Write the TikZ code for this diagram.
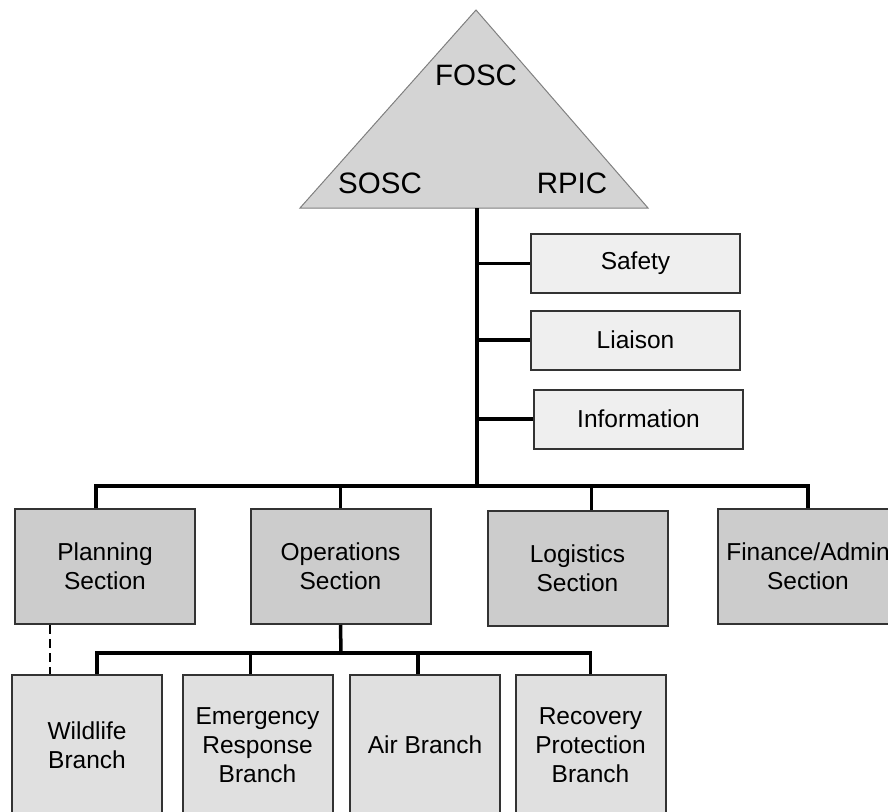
\documentclass[tikz,border=0pt]{standalone}
\usepackage{fontspec}
\setmainfont{Liberation Sans}
\usetikzlibrary{positioning}
\definecolor{trigray}{HTML}{D4D4D4}
\definecolor{secgray}{HTML}{CCCCCC}
\definecolor{brgray}{HTML}{E0E0E0}
\definecolor{stgray}{HTML}{EFEFEF}

\begin{document}
\begin{tikzpicture}[x=1pt, y=-1pt,
    conn/.style={line width=3.5pt, black},
    staff/.style={draw=black!80, line width=2pt, fill=stgray, minimum width=209pt, minimum height=59pt, inner sep=0pt, font=\fontsize{24.5}{29}\selectfont},
    section/.style={draw=black!80, line width=2pt, fill=secgray, minimum width=180pt, minimum height=115pt, inner sep=0pt, align=center, font=\fontsize{24.5}{29}\selectfont},
    branch/.style={draw=black!80, line width=2pt, fill=brgray, minimum width=150pt, minimum height=140pt, inner sep=0pt, align=center, font=\fontsize{24.5}{29}\selectfont},
    cmd/.style={font=\fontsize{29.5}{34}\selectfont}]
	\useasboundingbox (0,0) rectangle (888,811);
	\clip (0,0) rectangle (888,811);

	% unified command
	\draw[fill=trigray, draw=black!50, line width=1pt] (300,208) -- (476,10) -- (648,208) -- cycle;
	\node[cmd] (fosc) at (476,75) {FOSC};
	\node[cmd] (sosc) at (380,183) {SOSC};
	\node[cmd] (rpic) at (572,183) {RPIC};
	\coordinate (top) at (477,208);
	\coordinate (hub) at (477,486);

	% command staff
	\node[staff] (safety) at (635.5,263.5) {Safety};
	\node[staff] (liaison) at (635.5,340) {Liaison};
	\node[staff] (info) at (638.5,419) {Information};

	% general staff
	\node[section] (plan) at (105,566.5) {Planning\\Section};
	\node[section] (ops) at (340.5,566.5) {Operations\\Section};
	\node[section] (log) at (577.5,568.5) {Logistics\\Section};
	\node[section] (fin) at (808,566.5) {Finance/Admin\\Section};

	% branches
	\node[branch] (wild) at (87,745) {Wildlife\\Branch};
	\node[branch] (emer) at (257.5,745) {Emergency\\Response\\Branch};
	\node[branch] (air) at (425,745) {Air Branch};
	\node[branch] (rec) at (590.5,745) {Recovery\\Protection\\Branch};
	\coordinate (split) at (341,653);

	\draw[conn] (top) -- (hub);
	\draw[conn] (safety.west) -- (safety.west -| hub);
	\draw[conn] (liaison.west) -- (liaison.west -| hub);
	\draw[conn] (info.west) -- (info.west -| hub);
	\draw[conn] ([xshift=-9pt]plan.north) |- (hub) -| (fin.north);
	\draw[conn] (ops.north) -- (ops.north |- hub);
	\draw[conn] ([xshift=14pt]log.north) -- ([xshift=14pt]log.north |- hub);

	\draw[conn] (ops.south) -- (split);
	\draw[conn] ([xshift=10pt]wild.north) |- (split) -| (rec.north);
	\draw[conn] ([xshift=-7pt]emer.north) -- ([xshift=-7pt]emer.north |- split);
	\draw[conn] ([xshift=-7pt]air.north) -- ([xshift=-7pt]air.north |- split);
	\draw[line width=2.5pt, dash pattern=on 9pt off 5pt] ([xshift=-55pt]plan.south) -- ([xshift=-55pt]plan.south |- wild.north);
\end{tikzpicture}
\end{document}
